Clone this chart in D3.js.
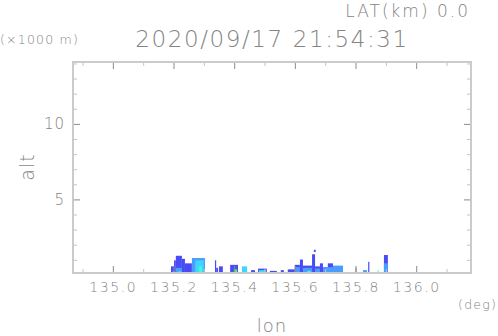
<!DOCTYPE html>
<html>
<head>
<meta charset="utf-8">
<script src="https://cdn.jsdelivr.net/npm/d3@7"></script>
<style>
  body { margin: 0; background: #fff; }
  text { font-family: "DejaVu Sans", sans-serif; font-weight: 200; fill: #848484; }
</style>
</head>
<body>
<div id="chart"></div>
<script>
// echo cells: west edge, east edge (deg), base and top (km), level
var cellLon0 = [135.190,135.200,135.206,135.226,135.236,135.259,135.335,135.339,135.348,135.385,135.424,135.454,135.477,135.516,135.552,135.575,135.598,135.615,135.625,135.655,135.665,135.681,135.691,135.707,135.724,135.798,135.823,135.840,135.871,135.892,135.661];
var cellLon1 = [135.200,135.206,135.226,135.236,135.259,135.302,135.339,135.345,135.361,135.411,135.441,135.467,135.506,135.539,135.562,135.598,135.615,135.625,135.655,135.665,135.681,135.691,135.707,135.724,135.757,135.801,135.836,135.844,135.874,135.905,135.667];
var cellBase = [0,0,0,0,0,0,0,0,0,0,0,0,0,0,0,0,0,0,0,0,0,0,0,0,0,0,0,0,0,0,1.55];
var cellTop  = [0.6,1.0,1.3,1.1,0.8,1.15,1.0,0.5,0.6,0.7,0.6,0.35,0.45,0.3,0.35,0.4,0.7,1.05,0.65,1.4,0.6,0.8,0.55,0.8,0.65,0.5,0.35,0.9,0.35,1.35,1.7];
var cellLevel = [1,1,1,1,1,2,1,1,1,1,3,1,1,1,1,1,1,1,1,1,1,1,1,1,2,0,2,1,4,1,1];

// inner cores
var coreLon0 = [135.206,135.270,135.283,135.397,135.480,135.487,135.492,135.520,135.598,135.625,135.640,135.665,135.691,135.724,135.892,135.215,135.196];
var coreLon1 = [135.226,135.298,135.292,135.408,135.503,135.500,135.497,135.535,135.615,135.655,135.650,135.681,135.724,135.757,135.905,135.222,135.203];
var coreTop  = [0.5,1.0,0.6,0.4,0.35,0.25,0.15,0.2,0.55,0.5,0.3,0.45,0.55,0.6,0.8,0.3,0.3];
var coreLevel = [2,3,4,5,3,5,6,4,2,2,4,2,2,2,2,3,2];

var xTicks = [135.0, 135.2, 135.4, 135.6, 135.8, 136.0];
var yTicks = [5, 10];
var levelColors = ["#8a8a8a","#4b4bf5","#4a9cff","#3fd6ff","#40ffd0","#44ff66","#e4ff40"];

var width = 498, height = 336;
var margin = { top: 62, right: 27, bottom: 63, left: 73 };
var w = width - margin.left - margin.right,
    h = height - margin.top - margin.bottom;

var x = d3.scaleLinear().domain([134.867, 136.179]).range([0, w]);
var y = d3.scaleLinear().domain([0.16, 14.13]).range([h, 0]);
var color = function(l) { return levelColors[l]; };

var svg = d3.select("#chart").append("svg")
    .attr("width", width)
    .attr("height", height);

var g = svg.append("g")
    .attr("transform", "translate(" + margin.left + "," + margin.top + ")");

// cells
var cells = cellLon0.map(function(d, i) {
    return { a: d, b: cellLon1[i], lo: cellBase[i], hi: cellTop[i], lv: cellLevel[i] };
});
var cores = coreLon0.map(function(d, i) {
    return { a: d, b: coreLon1[i], lo: 0, hi: coreTop[i], lv: coreLevel[i] };
});

g.append("g").selectAll("rect")
    .data(cells.concat(cores))
    .enter()
    .append("rect")
    .attr("x", function(d) { return x(d.a); })
    .attr("width", function(d) { return Math.max(1, x(d.b) - x(d.a)); })
    .attr("y", function(d) { return y(d.hi); })
    .attr("height", function(d) { return Math.max(0, Math.min(h, y(d.lo)) - y(d.hi)); })
    .attr("fill", function(d) { return color(d.lv); });

// ticks (inward, on all four sides)
var xMinor = d3.range(134.9, 136.15, 0.1).filter(function(v) {
    return Math.abs(Math.round(v * 5) - v * 5) > 0.01;
});
var yMinor = d3.range(1, 15, 1).filter(function(v) { return v % 5 != 0 && v < 14.1; });

function tickLines(vals, len, col, isX) {
    vals.forEach(function(v) {
        if (isX) {
            g.append("line").attr("x1", x(v)).attr("x2", x(v)).attr("y1", h).attr("y2", h - len).attr("stroke", col);
            g.append("line").attr("x1", x(v)).attr("x2", x(v)).attr("y1", 0).attr("y2", len).attr("stroke", col);
        } else {
            g.append("line").attr("y1", y(v)).attr("y2", y(v)).attr("x1", 0).attr("x2", len).attr("stroke", col);
            g.append("line").attr("y1", y(v)).attr("y2", y(v)).attr("x1", w).attr("x2", w - len).attr("stroke", col);
        }
    });
}
tickLines(xMinor, 4, "#c4c4c4", true);
tickLines(xTicks, 7, "#8a8a8a", true);
tickLines(yMinor, 4, "#c4c4c4", false);
tickLines(yTicks, 7, "#8a8a8a", false);

// frame
g.append("rect")
    .attr("width", w).attr("height", h)
    .attr("fill", "none")
    .attr("stroke", "#cbcbcb")
    .attr("stroke-width", 2);

// tick labels
g.selectAll(".xl").data(xTicks).enter().append("text")
    .attr("x", function(d) { return x(d); })
    .attr("y", h + 19)
    .attr("text-anchor", "middle")
    .style("font-size", "14px")
    .style("letter-spacing", "1.6px")
    .text(function(d) { return d.toFixed(1); });

g.selectAll(".yl").data(yTicks).enter().append("text")
    .attr("x", -8)
    .attr("y", function(d) { return y(d) + 5; })
    .attr("text-anchor", "end")
    .style("font-size", "15px")
    .style("letter-spacing", "1px")
    .text(function(d) { return d; });

// titles
svg.append("text").attr("x", 470).attr("y", 17).attr("text-anchor", "end")
    .style("font-size", "17px").style("letter-spacing", "2px").text("LAT(km) 0.0");
svg.append("text").attr("x", 272).attr("y", 47).attr("text-anchor", "middle")
    .style("font-size", "23px").style("letter-spacing", "1.6px").text("2020/09/17 21:54:31");
svg.append("text").attr("x", 0).attr("y", 44)
    .style("font-size", "12.5px").style("letter-spacing", "1.2px").text("(\u00d71000 m)");
svg.append("text").attr("x", 497).attr("y", 309).attr("text-anchor", "end")
    .style("font-size", "12.5px").style("letter-spacing", "1.2px").text("(deg)");
svg.append("text").attr("x", 272).attr("y", 332).attr("text-anchor", "middle")
    .style("font-size", "18px").style("letter-spacing", "1px").text("lon");
svg.append("text")
    .attr("transform", "translate(34,167) rotate(-90)")
    .attr("text-anchor", "middle")
    .style("font-size", "19px").style("letter-spacing", "1px").text("alt");
</script>
</body>
</html>
